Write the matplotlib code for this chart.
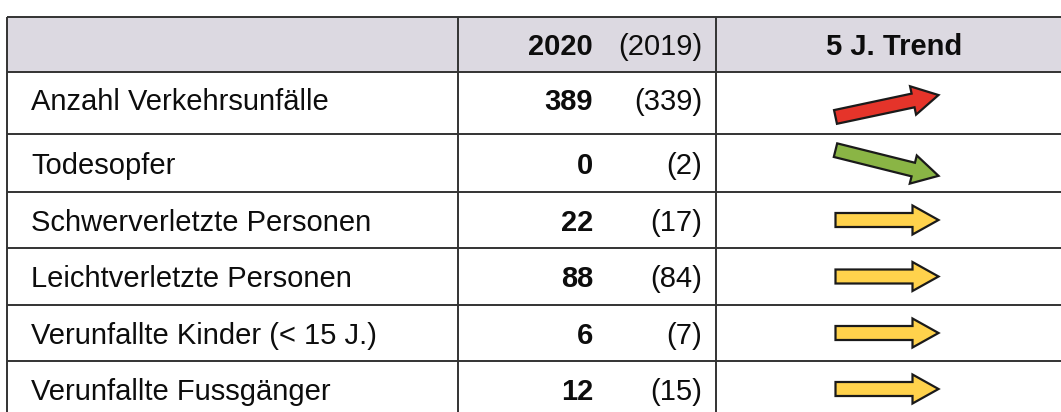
import matplotlib
matplotlib.use("Agg")
import matplotlib.pyplot as plt
from matplotlib.patches import FancyArrow, Rectangle
import numpy as np

# ---- data ----
categories = ["Anzahl Verkehrsunfälle", "Todesopfer", "Schwerverletzte Personen",
              "Leichtverletzte Personen", "Verunfallte Kinder (< 15 J.)",
              "Verunfallte Fussgänger"]
values_2020 = [389, 0, 22, 88, 6, 12]
values_2019 = [339, 2, 17, 84, 7, 15]
trend = ["up", "down", "flat", "flat", "flat", "flat"]
header_year = "2020"
header_prev = "(2019)"
header_trend = "5 J. Trend"

# ---- layout (pixel space) ----
W, H = 1061, 412
row_edges = [17, 72, 134, 192, 248, 305, 361, 417]
x_left, x_mid1, x_mid2 = 7, 458, 716
x_label = 31
x_val_right = 593
x_prev_right = 702
x_trend_center = 894
line_col = "#333333"
header_fill = "#dcd9e1"
trend_colors = {"up": "#e5342a", "down": "#8ab545", "flat": "#ffd24c"}
trend_angle = {"up": 12, "down": -14, "flat": 0}
fs = 21
font = "Liberation Sans"

fig = plt.figure(figsize=(W / 100, H / 100), dpi=100)
ax = fig.add_axes([0, 0, 1, 1])
ax.set_xlim(0, W)
ax.set_ylim(H, 0)
ax.axis("off")

# header background
ax.add_patch(Rectangle((x_left, row_edges[0]), W - x_left + 5, row_edges[1] - row_edges[0],
                       facecolor=header_fill, edgecolor="none", zorder=0))

# grid lines
for y in row_edges[:-1]:
    ax.plot([x_left, W + 5], [y, y], color=line_col, lw=1.4, solid_capstyle="butt", zorder=2)
for x in (x_left, x_mid1, x_mid2):
    ax.plot([x, x], [row_edges[0], H + 5], color=line_col, lw=1.4, solid_capstyle="butt", zorder=2)

cap_half = 10.5

def baseline(i):
    return (row_edges[i] + row_edges[i + 1]) / 2 + cap_half

# header text
hb = baseline(0)
ax.text(x_val_right, hb, header_year, ha="right", va="baseline", fontsize=fs,
        fontweight="bold", family=font, color="#0d0d0d")
ax.text(x_prev_right, hb, header_prev, ha="right", va="baseline", fontsize=fs,
        family=font, color="#0d0d0d")
ax.text(x_trend_center, hb, header_trend, ha="center", va="baseline", fontsize=fs,
        fontweight="bold", family=font, color="#0d0d0d")

arrow_dx = 103
for i, (cat, v20, v19, tr) in enumerate(zip(categories, values_2020, values_2019, trend)):
    b = baseline(i + 1) - (4 if i == 0 else 0)
    ax.text(x_label, b, cat, ha="left", va="baseline", fontsize=fs, family=font, color="#0d0d0d")
    ax.text(x_val_right, b, str(v20), ha="right", va="baseline", fontsize=fs,
            fontweight="bold", family=font, color="#0d0d0d")
    ax.text(x_prev_right, b, f"({v19})", ha="right", va="baseline", fontsize=fs,
            family=font, color="#0d0d0d")
    # arrow
    cy = (row_edges[i + 1] + row_edges[i + 2]) / 2 + (3 if i == 0 else 0)
    ang = np.deg2rad(trend_angle[tr])
    L = arrow_dx / np.cos(ang)
    dx = L * np.cos(ang)
    dy = -L * np.sin(ang)
    cx = x_trend_center - 7
    x0 = cx - dx / 2
    y0 = cy - dy / 2
    ax.add_patch(FancyArrow(x0, y0, dx, dy, width=14, head_width=29, head_length=26,
                            length_includes_head=True, facecolor=trend_colors[tr],
                            edgecolor="#1a1a1a", lw=1.6, zorder=3))

fig.savefig("out.png", dpi=100, facecolor="white")
